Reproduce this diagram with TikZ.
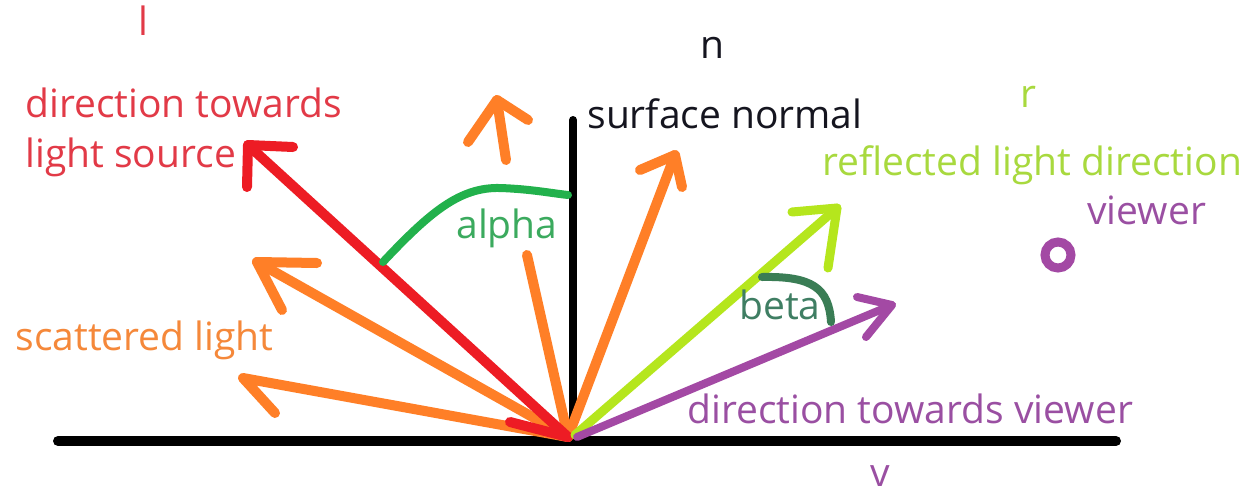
\documentclass[tikz,border=0pt]{standalone}
\usepackage{fontspec}
\setmainfont{Open Sans}
\definecolor{pred}{HTML}{ED1C24}
\definecolor{porange}{HTML}{FF7F27}
\definecolor{pgreen}{HTML}{22B14C}
\definecolor{plime}{HTML}{B5E61D}
\definecolor{ppurple}{HTML}{A349A4}
\definecolor{pdgreen}{HTML}{3A7D55}
\definecolor{tred}{HTML}{E23A47}
\definecolor{torange}{HTML}{F5883A}
\definecolor{tlime}{HTML}{A8D93E}
\definecolor{tpurple}{HTML}{9A4FA2}
\definecolor{tgreen}{HTML}{3BAA5E}
\definecolor{tdgreen}{HTML}{3F7E63}
\definecolor{tblack}{HTML}{15151F}
\begin{document}
\begin{tikzpicture}[x=0.5pt,y=-0.5pt,
  stroke/.style={line cap=round,line join=round},
  lbl/.style={font=\fontsize{19.5}{25}\selectfont,inner sep=0pt,anchor=base west},
  lblc/.style={font=\fontsize{19.5}{25}\selectfont,inner sep=0pt,anchor=base},
  arr/.style={stroke,line width=5pt}]
\useasboundingbox (0,0) rectangle (1260,494);
\fill[white] (0,0) rectangle (1260,494);
% key points
\coordinate (O) at (568,437);
\coordinate (sL) at (58,441);
\coordinate (sR) at (1116,441);
\coordinate (nT) at (573,120);
\coordinate (nB) at (573,437);
% surface and normal
\draw[stroke,line width=5pt,black] (sL) -- (sR);
\draw[stroke,line width=4pt,black] (nT) -- (nB);
% orange scattered arrows
\coordinate (o1m) at (527,255);
\coordinate (o1b) at (506,160);
\coordinate (o1T) at (497,100);
\coordinate (o1a) at (468,142);
\coordinate (o1c) at (528,120);
\draw[arr,porange] (O) -- (o1m);
\draw[arr,porange] (o1b) -- (o1T);
\draw[arr,porange] (o1a) -- (o1T) -- (o1c);
\coordinate (o2T) at (675,155);
\draw[arr,porange] (O) -- (o2T);
\draw[arr,porange] (640,170) -- (o2T) -- (682,187);
\coordinate (o3T) at (257,262);
\draw[arr,porange] (O) -- (o3T);
\draw[arr,porange] (317,263) -- (o3T) -- (282,310);
\coordinate (o4T) at (243,378);
\draw[arr,porange] (O) -- (o4T) -- (275,413);
% red light direction
\coordinate (lT) at (248,145);
\draw[arr,pred] (O) -- (lT);
\draw[arr,pred] (293,147) -- (lT) -- (247,187);
\coordinate (rs) at (510,422);
\draw[arr,pred] (rs) -- (O);
% lime reflected
\coordinate (rT) at (837,208);
\draw[stroke,line width=4.5pt,plime] (575,435) -- (rT);
\draw[stroke,line width=4.5pt,plime] (792,212) -- (rT) -- (828,268);
% purple viewer
\coordinate (vT) at (892,305);
\draw[stroke,line width=4pt,ppurple] (577,437) -- (vT);
\draw[stroke,line width=4pt,ppurple] (857,297) -- (vT) -- (866,337);
% angle arcs
\draw[stroke,line width=4pt,pgreen] (383,262) .. controls (430,212) and (460,187) .. (500,188) .. controls (530,189) and (550,193) .. (568,195);
\draw[stroke,line width=4pt,pdgreen] (762,277) .. controls (812,276) and (829,288) .. (831,322);
% viewer point
\node[circle,draw=ppurple,line width=4.5pt,minimum size=13pt,inner sep=0pt] (eye) at (1058,255) {};
% labels
\node[lblc,tred] (lab-l) at (143,35) {l};
\node[lbl,tred] (lab-l1) at (25,117) {direction towards};
\node[lbl,tred] (lab-l2) at (25,167) {light source};
\node[lblc,tblack] (lab-n) at (712,58) {n};
\node[lbl,tblack] (lab-n1) at (587,128) {surface normal};
\node[lblc,tlime] (lab-r) at (1028,107) {r};
\node[lbl,tlime] (lab-r1) at (822,175) {reflected light direction};
\node[lbl,tpurple] (lab-eye) at (1087,224) {viewer};
\node[lbl,tgreen] (lab-a) at (456,238) {alpha};
\node[lbl,tdgreen] (lab-b) at (739,319) {beta};
\node[lbl,torange] (lab-s) at (15,350) {scattered light};
\node[lbl,tpurple] (lab-v1) at (687,423) {direction towards viewer};
\node[lblc,tpurple] (lab-v) at (880,486) {v};
\end{tikzpicture}
\end{document}
